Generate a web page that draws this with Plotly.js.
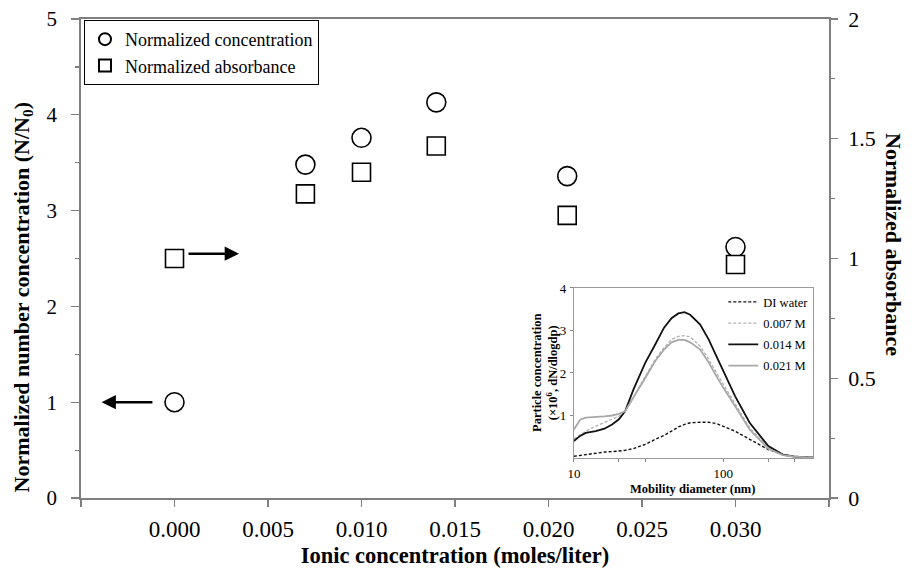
<!DOCTYPE html>
<html>
<head>
<meta charset="utf-8">
<script src="https://cdn.plot.ly/plotly-3.0.1.min.js"></script>
<style>html,body{margin:0;padding:0;background:#fff;}</style>
</head>
<body>
<div id="chart" style="width:918px;height:568px;"></div>
<script>
// ---- Main chart data ----
const ionicConc = [0.000, 0.007, 0.010, 0.014, 0.021, 0.030];
const normConcentration = [1.00, 3.48, 3.76, 4.13, 3.36, 2.62];
const normAbsorbance = [1.00, 1.27, 1.36, 1.47, 1.18, 0.975];
const xTickVals = [0.000, 0.005, 0.010, 0.015, 0.020, 0.025, 0.030];
const xTickText = ['0.000', '0.005', '0.010', '0.015', '0.020', '0.025', '0.030'];

// ---- Inset data (mobility diameter, nm ; particle concentration x1e6) ----
const diameter = [10, 11, 12, 14, 16, 18, 20, 22, 25, 30, 35, 40, 45, 50, 55, 60, 70, 80, 90, 100, 120, 150, 200, 250, 300, 400];
const diWater  = [0.04, 0.06, 0.08, 0.12, 0.14, 0.15, 0.16, 0.18, 0.22, 0.32, 0.44, 0.53, 0.63, 0.73, 0.79, 0.83, 0.84, 0.84, 0.81, 0.75, 0.63, 0.44, 0.20, 0.08, 0.04, 0.01];
const m007     = [0.45, 0.55, 0.63, 0.75, 0.83, 0.91, 0.98, 1.10, 1.45, 1.92, 2.32, 2.59, 2.79, 2.86, 2.88, 2.85, 2.63, 2.32, 2.00, 1.73, 1.26, 0.71, 0.24, 0.08, 0.03, 0.01];
const m014     = [0.40, 0.52, 0.59, 0.63, 0.69, 0.79, 0.91, 1.10, 1.61, 2.24, 2.67, 3.06, 3.29, 3.40, 3.43, 3.37, 3.14, 2.78, 2.39, 2.04, 1.45, 0.83, 0.28, 0.08, 0.03, 0.01];
const m021     = [0.67, 0.90, 0.95, 0.96, 0.98, 1.00, 1.04, 1.10, 1.41, 1.88, 2.28, 2.55, 2.72, 2.78, 2.78, 2.72, 2.55, 2.24, 1.92, 1.65, 1.22, 0.67, 0.22, 0.07, 0.03, 0.01];
const insetTickVals = [10, 100];
const insetTickText = ['10', '100'];
const insetMinorTicks = [20, 30, 200, 300];

// Arrow annotation endpoints (in axis units)
const leftArrow = {tipX: -0.0039, tailX: -0.0011, y: 1.0};
const rightArrow = {tailX: 0.00067, tipX: 0.00345, y: 1.02};

const serif = '"Liberation Serif", "Times New Roman", serif';
const axisGray = '#7f7f7f';
const insetDomX = [0.659, 0.979];
const insetDomY = [0.0835, 0.4385];

const traces = [
  {
    x: ionicConc, y: normConcentration, type: 'scatter', mode: 'markers',
    name: 'Normalized concentration', xaxis: 'x', yaxis: 'y',
    legend: 'legend', legendgroup: 'a',
    marker: {symbol: 'circle', size: 19, color: '#ffffff', line: {color: '#000', width: 1.6}},
    cliponaxis: false
  },
  {
    x: ionicConc, y: normAbsorbance, type: 'scatter', mode: 'markers',
    name: 'Normalized absorbance', xaxis: 'x', yaxis: 'y2',
    legend: 'legend', legendgroup: 'b',
    marker: {symbol: 'square', size: 18, color: '#ffffff', line: {color: '#000', width: 1.6}},
    cliponaxis: false
  },
  {
    x: diameter, y: diWater, type: 'scatter', mode: 'lines', name: 'DI water',
    xaxis: 'x3', yaxis: 'y3', legend: 'legend2', legendgroup: 'c',
    line: {color: '#111', width: 1.4, dash: '3px,2px'}
  },
  {
    x: diameter, y: m007, type: 'scatter', mode: 'lines', name: '0.007 M',
    xaxis: 'x3', yaxis: 'y3', legend: 'legend2', legendgroup: 'd',
    line: {color: '#b0b0b0', width: 1.3, dash: '3px,2px'}
  },
  {
    x: diameter, y: m014, type: 'scatter', mode: 'lines', name: '0.014 M',
    xaxis: 'x3', yaxis: 'y3', legend: 'legend2', legendgroup: 'e',
    line: {color: '#111', width: 1.8}
  },
  {
    x: diameter, y: m021, type: 'scatter', mode: 'lines', name: '0.021 M',
    xaxis: 'x3', yaxis: 'y3', legend: 'legend2', legendgroup: 'f',
    line: {color: '#a8a8a8', width: 1.8}
  }
];

const layout = {
  width: 918, height: 568,
  margin: {l: 81, r: 89, t: 19, b: 70, pad: 0},
  paper_bgcolor: '#fff', plot_bgcolor: 'rgba(0,0,0,0)',
  font: {family: serif, color: '#000'},
  showlegend: true,
  xaxis: {
    domain: [0, 1], anchor: 'y', range: [-0.005, 0.035],
    tickmode: 'array', tickvals: xTickVals, ticktext: xTickText,
    ticks: 'outside', ticklen: 7, tickwidth: 1.2, tickcolor: axisGray,
    minor: {dtick: 0.005, tick0: 0, ticks: 'outside', ticklen: 7, tickwidth: 1.2, tickcolor: axisGray, showgrid: false},
    showline: true, linecolor: axisGray, linewidth: 1.8, mirror: true,
    showgrid: false, zeroline: false,
    tickfont: {family: serif, size: 23, color: '#000'}, ticklabelstandoff: 3,
    title: {text: '<b>Ionic concentration (moles/liter)</b>', font: {family: serif, size: 22.5, color: '#000'}, standoff: 12}
  },
  yaxis: {
    domain: [0, 1], anchor: 'x', range: [0, 5], dtick: 1, tick0: 0,
    ticks: 'outside', ticklen: 8, tickwidth: 1.2, tickcolor: axisGray,
    minor: {dtick: 0.5, ticks: 'outside', ticklen: 4, tickcolor: axisGray, showgrid: false},
    showline: true, linecolor: axisGray, linewidth: 1.8,
    showgrid: false, zeroline: false,
    tickfont: {family: serif, size: 21, color: '#000'}, ticklabelstandoff: 10
  },
  yaxis2: {
    overlaying: 'y', side: 'right', anchor: 'x', range: [0, 2], dtick: 0.5, tick0: 0,
    ticks: 'outside', ticklen: 7, tickwidth: 1.2, tickcolor: axisGray,
    minor: {dtick: 0.25, ticks: 'outside', ticklen: 4, tickcolor: axisGray, showgrid: false},
    showline: true, linecolor: axisGray, linewidth: 1.8,
    showgrid: false, zeroline: false,
    tickfont: {family: serif, size: 22, color: '#000'}, ticklabelstandoff: 6
  },
  xaxis3: {
    domain: insetDomX, anchor: 'y3', type: 'log', range: [1, Math.log10(400)],
    tickmode: 'array', tickvals: insetTickVals, ticktext: insetTickText,
    ticks: 'outside', ticklen: 3, tickwidth: 1, tickcolor: '#888',
    minor: {tickmode: 'array', tickvals: insetMinorTicks, ticks: 'outside', ticklen: 3, tickwidth: 1, tickcolor: '#888', showgrid: false},
    showline: true, linecolor: '#9a9a9a', linewidth: 1, mirror: true,
    showgrid: false, zeroline: false,
    tickfont: {family: serif, size: 13, color: '#000'}, ticklabelstandoff: 0
  },
  yaxis3: {
    domain: insetDomY, anchor: 'x3', range: [0, 4],
    tickmode: 'array', tickvals: [1, 2, 3, 4], ticktext: ['1', '2', '3', '4'],
    ticks: 'outside', ticklen: 3, tickwidth: 1, tickcolor: '#888',
    showline: true, linecolor: '#9a9a9a', linewidth: 1, mirror: true,
    showgrid: false, zeroline: false,
    tickfont: {family: serif, size: 13, color: '#000'}, ticklabelstandoff: 1
  },
  legend: {
    x: 0.004, y: 0.998, xanchor: 'left', yanchor: 'top',
    bgcolor: '#fff', bordercolor: '#000', borderwidth: 1,
    font: {family: serif, size: 18, color: '#000'},
    tracegroupgap: 0, itemsizing: 'constant'
  },
  legend2: {
    x: 0.979, y: 0.44, xanchor: 'right', yanchor: 'top',
    bgcolor: 'rgba(255,255,255,0)', borderwidth: 0,
    font: {family: serif, size: 12.5, color: '#000'},
    tracegroupgap: 2, itemwidth: 30
  },
  annotations: [
    {xref: 'paper', yref: 'paper', x: -0.078, y: 0.418, xanchor: 'center', yanchor: 'middle',
     text: '<b>Normalized number concentration (N/N<sub>0</sub>)</b>', textangle: -90, showarrow: false,
     font: {family: serif, size: 22, color: '#000'}},
    {xref: 'paper', yref: 'paper', x: 1.087, y: 0.53, xanchor: 'center', yanchor: 'middle',
     text: '<b>Normalized absorbance</b>', textangle: 90, showarrow: false,
     font: {family: serif, size: 22, color: '#000'}},
    {xref: 'paper', yref: 'paper', x: 0.621, y: 0.26, xanchor: 'center', yanchor: 'middle',
     text: '<b>Particle concentration</b><br><b>(×10<sup>6</sup>, dN/dlogdp)</b>', textangle: -90, showarrow: false,
     font: {family: serif, size: 12.5, color: '#000'}},
    {xref: 'paper', yref: 'paper', x: 0.818, y: 0.0188, xanchor: 'center', yanchor: 'middle',
     text: '<b>Mobility diameter (nm)</b>', showarrow: false,
     font: {family: serif, size: 12.5, color: '#000'}},
    {xref: 'x', yref: 'y', axref: 'x', ayref: 'y',
     x: leftArrow.tipX, y: leftArrow.y, ax: leftArrow.tailX, ay: leftArrow.y,
     text: '', showarrow: true, arrowhead: 2, arrowsize: 1.1, arrowwidth: 2.6, arrowcolor: '#000'},
    {xref: 'x', yref: 'y2', axref: 'x', ayref: 'y2',
     x: rightArrow.tipX, y: rightArrow.y, ax: rightArrow.tailX, ay: rightArrow.y,
     text: '', showarrow: true, arrowhead: 2, arrowsize: 1.1, arrowwidth: 2.6, arrowcolor: '#000'}
  ]
};

Plotly.newPlot('chart', traces, layout, {displayModeBar: false, staticPlot: true});
</script>
</body>
</html>
